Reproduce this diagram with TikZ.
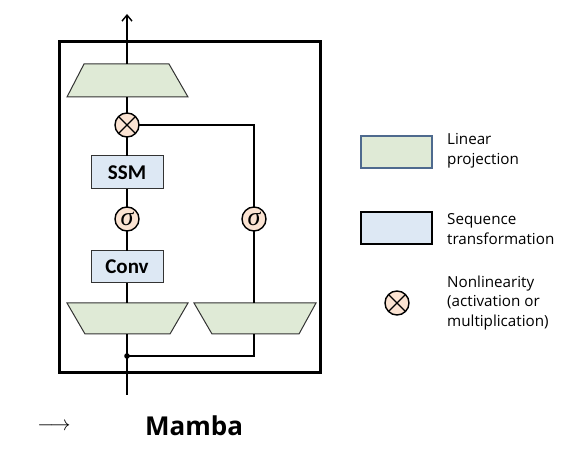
\documentclass[tikz,border=0pt]{standalone}
\usepackage{fontspec}
\setmainfont{Open Sans}
\newfontfamily\blockfont{Carlito}
\newfontfamily\greekfont{Liberation Serif}
\usetikzlibrary{arrows.meta}
\definecolor{projfill}{HTML}{DFEAD6}
\definecolor{seqfill}{HTML}{DDE8F4}
\definecolor{nlfill}{HTML}{FBE3D2}
\definecolor{edge}{HTML}{333333}
\definecolor{legedge}{HTML}{4E6A8E}
\begin{document}
\begin{tikzpicture}[x=1pt,y=-1pt,
  wire/.style={line width=1.4pt,black},
  proj/.style={draw=edge,line width=1pt,fill=projfill,line join=miter},
  seqbox/.style={rectangle,draw=edge,line width=1pt,fill=seqfill,minimum width=72pt,
    minimum height=33pt,inner sep=0pt,outer sep=0pt,
    font=\blockfont\bfseries\fontsize{21}{21}\selectfont},
  nonlin/.style={circle,draw=black,line width=1.4pt,fill=nlfill,minimum size=24pt,
    inner sep=0pt,outer sep=0pt},
  sigmanode/.style={nonlin,minimum size=24pt,font=\greekfont\itshape\fontsize{26}{26}\selectfont},
  legtext/.style={anchor=west,align=left,font=\fontsize{15.2}{19.5}\selectfont,inner sep=0pt}
]
\useasboundingbox (0,0) rectangle (566,454);

% outer block frame
\draw[line width=3pt] (59.5,42) rectangle (320,373);

% projections (trapezia)
\draw[proj] (84,64) -- (169,64) -- (188,97) -- (67,97) -- cycle;
\draw[proj] (67,303) -- (188,303) -- (170,334) -- (85,334) -- cycle;
\draw[proj] (194,303) -- (316,303) -- (299,334) -- (212,334) -- cycle;
\coordinate (outprojtop) at (127,64);
\coordinate (outprojbot) at (127,97);
\coordinate (inprojtop) at (127,303);
\coordinate (inprojbot) at (127,334);
\coordinate (gateprojtop) at (254,303);
\coordinate (gateprojbot) at (254,334);

% sequence transformations
\node[seqbox] (ssm) at (127,172.5) {SSM};
\node[seqbox,minimum height=32pt] (conv) at (127,267) {Conv};

% nonlinearities
\node[nonlin] (mult) at (127,125) {};
\draw[line width=1.2pt] (mult.north west) -- (mult.south east)
                        (mult.north east) -- (mult.south west);
\node[sigmanode] (sigl) at (127,219) {σ};
\node[sigmanode] (sigr) at (254,219) {σ};

% wiring
\coordinate (in) at (127,395);
\coordinate (out) at (127,14);
\coordinate (split) at (127,356);
\coordinate (splitr) at (254,356);
\coordinate (gatetop) at (254,125);

\draw[wire] (in) -- (inprojbot);
\draw[wire] (inprojtop) -- (conv.south);
\draw[wire] (conv.north) -- (sigl.south);
\draw[wire] (sigl.north) -- (ssm.south);
\draw[wire] (ssm.north) -- (mult.south);
\draw[wire] (mult.north) -- (outprojbot);
\draw[wire,-{Straight Barb[length=6pt,width=10pt]}] (outprojtop) -- (out);
\draw[wire] (split) -- (splitr) -- (gateprojbot);
\draw[wire] (gateprojtop) -- (sigr.south);
\draw[wire] (sigr.north) -- (gatetop) -- (mult.east);
\fill (split) circle (2.8pt);

% legend
\node[rectangle,draw=legedge,line width=1.2pt,fill=projfill,minimum width=71pt,
  minimum height=32pt,inner sep=0pt] (legproj) at (396.5,152) {};
\node[legtext] (legprojtxt) at (447,151) {Linear\\projection};
\node[rectangle,draw=black,line width=1.2pt,fill=seqfill,minimum width=71pt,
  minimum height=32pt,inner sep=0pt] (legseq) at (396.5,228) {};
\node[legtext] (legseqtxt) at (447,229) {Sequence\\transformation};
\node[nonlin] (legnl) at (397,303) {};
\draw[line width=1.2pt] (legnl.north west) -- (legnl.south east)
                        (legnl.north east) -- (legnl.south west);
\node[legtext] (legnltxt) at (447,303) {Nonlinearity\\(activation or\\multiplication)};

% caption
\node (caparrow) at (54,427) {\fontsize{20}{20}\selectfont$\longrightarrow$};
\node[font=\bfseries\fontsize{26}{26}\selectfont] (caption) at (194,426) {Mamba};
\end{tikzpicture}
\end{document}
